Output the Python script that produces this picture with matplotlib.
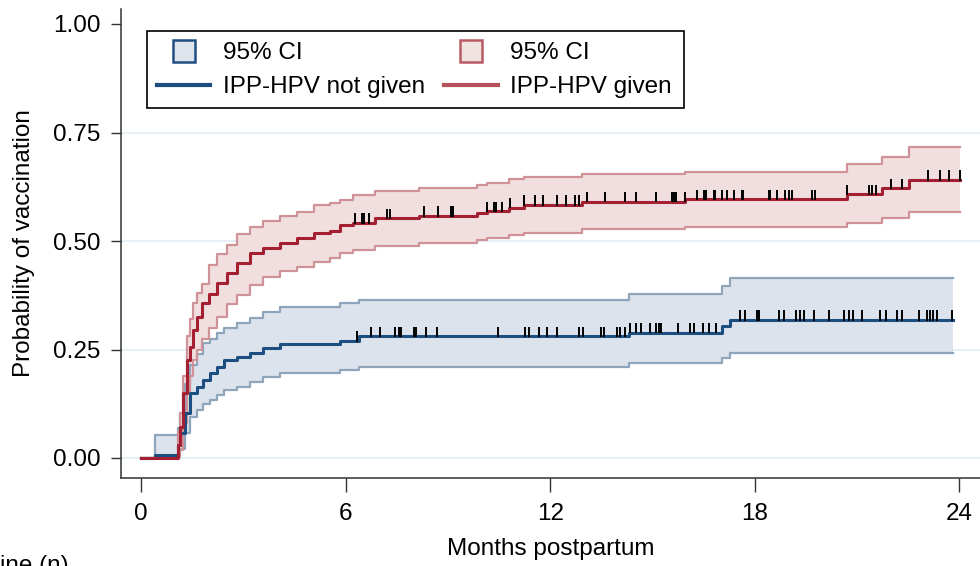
import numpy as np
import matplotlib
matplotlib.use('Agg')
import matplotlib.pyplot as plt
from matplotlib.lines import Line2D
from matplotlib.patches import Rectangle

plt.rcParams['font.family'] = ['Liberation Sans', 'DejaVu Sans']
fontsize = 17.5

# Kaplan-Meier style cumulative estimates (months postpartum)
# IPP-HPV given
t_given = [0, 1.08, 1.14, 1.24, 1.34, 1.44, 1.53, 1.63, 1.78, 1.98, 2.22, 2.51, 2.81,
           3.20, 3.59, 4.08, 4.57, 5.06, 5.55, 5.84, 6.23, 6.87, 8.14, 9.85, 10.14,
           10.78, 11.22, 12.93, 15.96, 20.71, 21.73, 22.51, 24.03]
est_given = [0, 0.03, 0.072, 0.149, 0.226, 0.256, 0.295, 0.326, 0.356, 0.379, 0.403,
             0.426, 0.449, 0.472, 0.483, 0.495, 0.506, 0.519, 0.523, 0.537, 0.542,
             0.552, 0.558, 0.564, 0.568, 0.577, 0.583, 0.591, 0.596, 0.608, 0.621,
             0.641, 0.641]
hi_given = [0, 0.06, 0.104, 0.19, 0.280, 0.32, 0.356, 0.38, 0.40, 0.445, 0.47, 0.49,
            0.515, 0.533, 0.546, 0.558, 0.567, 0.583, 0.588, 0.594, 0.606, 0.616,
            0.621, 0.629, 0.634, 0.644, 0.648, 0.654, 0.660, 0.677, 0.694, 0.716, 0.716]
lo_given = [0, 0.005, 0.018, 0.08, 0.150, 0.19, 0.226, 0.25, 0.275, 0.30, 0.326, 0.355,
            0.375, 0.398, 0.418, 0.43, 0.44, 0.452, 0.460, 0.472, 0.479, 0.488, 0.495,
            0.502, 0.506, 0.514, 0.519, 0.527, 0.533, 0.541, 0.552, 0.566, 0.566]

# IPP-HPV not given
t_not = [0, 0.41, 1.08, 1.14, 1.29, 1.44, 1.63, 1.83, 2.02, 2.22, 2.42, 2.81, 3.20,
         3.59, 4.08, 5.84, 6.38, 14.30, 17.04, 17.28, 23.80]
est_not = [0, 0.007, 0.03, 0.057, 0.103, 0.149, 0.164, 0.180, 0.195, 0.210, 0.226,
           0.233, 0.241, 0.253, 0.262, 0.270, 0.280, 0.289, 0.304, 0.318, 0.318]
hi_not = [0, 0.053, 0.07, 0.103, 0.17, 0.215, 0.24, 0.264, 0.275, 0.287, 0.30, 0.31,
          0.322, 0.337, 0.349, 0.356, 0.364, 0.378, 0.396, 0.414, 0.414]
lo_not = [0, 0.001, 0.002, 0.02, 0.057, 0.095, 0.111, 0.125, 0.134, 0.145, 0.157,
          0.164, 0.176, 0.187, 0.195, 0.203, 0.210, 0.218, 0.230, 0.241, 0.241]

# censoring times
cens_given = [6.28, 6.48, 6.55, 6.70, 7.21, 7.31, 8.30, 8.71, 9.09, 9.15, 10.14, 10.34,
              10.41, 10.60, 10.81, 11.22, 11.56, 11.80, 12.20, 12.47, 12.73, 12.83,
              13.08, 13.62, 14.20, 14.52, 15.11, 15.57, 15.64, 15.70, 15.94, 16.31,
              16.52, 16.58, 16.79, 16.84, 17.04, 17.19, 17.38, 17.61, 17.66, 18.41,
              18.46, 18.65, 18.90, 19.00, 19.09, 19.68, 19.78, 20.71, 21.34, 21.44,
              21.54, 21.98, 22.32, 23.07, 23.42, 23.69, 24.01]
cens_not = [6.33, 6.74, 7.01, 7.45, 7.58, 7.62, 8.01, 8.05, 8.35, 8.68, 10.47, 11.25,
            11.39, 11.66, 11.90, 12.20, 12.83, 12.96, 13.49, 13.57, 13.96, 14.06, 14.20,
            14.35, 14.52, 14.67, 14.92, 15.11, 15.18, 15.25, 15.75, 16.11, 16.21, 16.48,
            16.67, 16.87, 17.58, 17.72, 18.05, 18.11, 18.70, 18.85, 19.22, 19.32, 19.43,
            19.73, 20.17, 20.63, 20.75, 20.88, 21.15, 21.68, 21.86, 22.17, 22.32, 22.81,
            23.04, 23.15, 23.24, 23.34, 23.79]

xticks = [0, 6, 12, 18, 24]
yticks = [0, 0.25, 0.5, 0.75, 1.0]

blue = '#1c4f80'
blue_fill = '#dce3ec'
blue_edge = '#8fa5bb'
red = '#a51f33'
red_fill = '#f1dfdf'
red_edge = '#cf9297'

fig = plt.figure(figsize=(9.8, 5.66), dpi=100)
ax = fig.add_axes([121/980, 88/566, 1 - 121/980, 469/566])

for g in [0, 0.25, 0.5, 0.75]:
    ax.axhline(g, color='#e3edf3', lw=1.2, zorder=0)


def km(t, est, lo, hi, line_c, fill_c, edge_c, cens):
    ax.fill_between(t, lo, hi, step='post', color=fill_c, lw=0, zorder=1)
    ax.step(t, lo, where='post', color=edge_c, lw=1.6, zorder=2)
    ax.step(t, hi, where='post', color=edge_c, lw=1.6, zorder=2)
    ax.step(t, est, where='post', color=line_c, lw=2.2, zorder=3)
    idx = np.searchsorted(t, cens, side='right') - 1
    yc = np.array(est)[idx]
    ax.vlines(cens, yc - 0.002, yc + 0.022, color='black', lw=1.4, zorder=4)


km(t_not, est_not, lo_not, hi_not, blue, blue_fill, blue_edge, cens_not)
km(t_given, est_given, lo_given, hi_given, red, red_fill, red_edge, cens_given)

ax.set_xlim(-20/34.1, (980 - 141)/34.1)
ax.set_ylim(-20/434, 449/434)
ax.set_xticks(xticks)
ax.set_xticklabels([str(x) for x in xticks])
ax.set_yticks(yticks)
ax.set_yticklabels(['%.2f' % y for y in yticks])
ax.tick_params(axis='both', direction='out', width=1, color='#333333',
               labelsize=fontsize)
ax.tick_params(axis='y', length=7.5, pad=7)
ax.tick_params(axis='x', length=10, pad=8)
for s in ['top', 'right']:
    ax.spines[s].set_visible(False)
for s in ['left', 'bottom']:
    ax.spines[s].set_color('#333333')
    ax.spines[s].set_linewidth(1.1)

ax.set_xlabel('Months postpartum', fontsize=fontsize, labelpad=9)
ax.set_ylabel('Probability of vaccination', fontsize=fontsize, labelpad=13)

handles = [
    Line2D([], [], ls='none', marker='s', markersize=16, markerfacecolor='#dee5ed',
           markeredgecolor='#1f4e82', markeredgewidth=1.8),
    Line2D([], [], color=blue, lw=3),
    Line2D([], [], ls='none', marker='s', markersize=16, markerfacecolor='#f2e3e3',
           markeredgecolor='#b85a62', markeredgewidth=1.8),
    Line2D([], [], color='#b3505a', lw=3),
]
labels = ['95% CI', 'IPP-HPV not given', '95% CI', 'IPP-HPV given']
fig.legend(handles, labels, ncol=2, loc='upper left',
           bbox_to_anchor=(157/980, 1 - 42/566), frameon=False, fontsize=fontsize,
           borderpad=0, borderaxespad=0, handlelength=2.2, handletextpad=0.5,
           columnspacing=0.8, labelspacing=0.5)
fig.patches.append(Rectangle((147/980, 1 - 108/566), 537/980, 77/566,
                             transform=fig.transFigure, fill=False,
                             edgecolor='black', lw=1.2))

fig.text(0.0, -6/566, 'ine (n)', fontsize=fontsize, ha='left', va='baseline')

fig.savefig('out.png', dpi=100)
